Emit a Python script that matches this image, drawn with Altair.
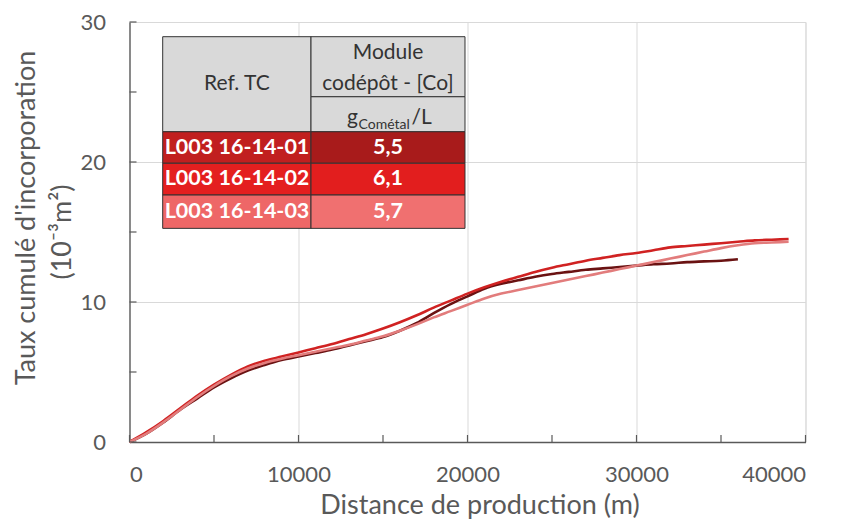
import altair as alt
import pandas as pd

# ---------------- data ----------------
series_names = ["L003 16-14-01", "L003 16-14-02", "L003 16-14-03"]
co_values = ["5,5", "6,1", "5,7"]

dist_01 = [0, 1000, 2000, 3000, 4000, 5000, 6000, 7000, 8000, 9000, 10000,
           11000, 12000, 13000, 14000, 15000, 16000, 17000, 18000, 19000, 20000,
           21000, 22000, 23000, 24000, 25000, 26000, 27000, 28000, 29000, 30000,
           31000, 32000, 33000, 34000, 35000, 36000]
rate_01 = [0, 0.6, 1.4, 2.3, 3.1, 3.9, 4.55, 5.1, 5.5, 5.85, 6.1,
           6.35, 6.6, 6.9, 7.2, 7.5, 7.95, 8.5, 9.2, 9.85, 10.4,
           10.95, 11.3, 11.55, 11.8, 12.0, 12.15, 12.3, 12.4, 12.5, 12.6,
           12.7, 12.75, 12.85, 12.9, 12.95, 13.05]

dist_02 = [0, 1000, 2000, 3000, 4000, 5000, 6000, 7000, 8000, 9000, 10000,
           11000, 12000, 13000, 14000, 15000, 16000, 17000, 18000, 19000, 20000,
           21000, 22000, 23000, 24000, 25000, 26000, 27000, 28000, 29000, 30000,
           31000, 32000, 33000, 34000, 35000, 36000, 37000, 38000, 39000]
rate_02 = [0, 0.7, 1.5, 2.4, 3.3, 4.1, 4.8, 5.4, 5.8, 6.1, 6.4,
           6.7, 7.0, 7.35, 7.7, 8.1, 8.55, 9.05, 9.6, 10.1, 10.6,
           11.05, 11.45, 11.8, 12.15, 12.45, 12.7, 12.95, 13.15, 13.35, 13.5,
           13.7, 13.9, 14.0, 14.1, 14.2, 14.3, 14.4, 14.45, 14.5]

dist_03 = [0, 1000, 2000, 3000, 4000, 5000, 6000, 7000, 8000, 9000, 10000,
           11000, 12000, 13000, 14000, 15000, 16000, 17000, 18000, 19000, 20000,
           21000, 22000, 23000, 24000, 25000, 26000, 27000, 28000, 29000, 30000,
           31000, 32000, 33000, 34000, 35000, 36000, 37000, 38000, 39000]
rate_03 = [0, 0.6, 1.4, 2.3, 3.2, 4.0, 4.7, 5.25, 5.65, 5.95, 6.2,
           6.45, 6.7, 6.95, 7.25, 7.55, 7.95, 8.4, 8.9, 9.35, 9.8,
           10.25, 10.6, 10.85, 11.1, 11.35, 11.6, 11.85, 12.1, 12.35, 12.6,
           12.85, 13.1, 13.35, 13.6, 13.85, 14.05, 14.2, 14.25, 14.3]

x_labels = [0, 10000, 20000, 30000, 40000]
y_labels = [0, 10, 20, 30]
x_minor = [0, 5000, 10000, 15000, 20000, 25000, 30000, 35000, 40000]
y_minor = [0, 5, 10, 15, 20, 25, 30]

# ---------------- styles / layout ----------------
FONT = "Lato"
GREY = "#595959"
line_colors = ["#6A1212", "#D02222", "#E27C7C"]
row_left_fill = ["#C11F1F", "#E41F1F", "#EE6767"]
row_right_fill = ["#A81B1B", "#E21E1E", "#F07070"]
HEADER_FILL = "#D9D9D9"

W, H = 676, 420

# table geometry in data units
TX0, TXM, TX1 = 1964, 10740, 19852
TY_TOP, TY_SUB, TY_HDR = 28.95, 24.66, 22.16
TY_ROWS = [22.16, 19.91, 17.64, 15.26]

# ---------------- frames ----------------
rows = []
for name, xs, ys in zip(series_names, [dist_01, dist_02, dist_03], [rate_01, rate_02, rate_03]):
    for xv, yv in zip(xs, ys):
        rows.append({"series": name, "dist": xv, "rate": yv})
df = pd.DataFrame(rows)

xsc = alt.Scale(domain=[0, 40000], nice=False, zero=False)
ysc = alt.Scale(domain=[0, 30], nice=False, zero=False)

lines = alt.Chart(df).mark_line(strokeWidth=2.6, interpolate="monotone").encode(
    x=alt.X("dist:Q", scale=xsc,
            axis=alt.Axis(values=x_labels, format="d", grid=True, ticks=False, title=None,
                          labelFont=FONT, labelFontSize=22, labelColor=GREY,
                          labelPadding=22, gridColor="#D9D9D9", gridWidth=1,
                          domainColor=GREY, domainWidth=1.3)),
    y=alt.Y("rate:Q", scale=ysc,
            axis=alt.Axis(values=y_labels, grid=True, ticks=False, title=None,
                          labelFont=FONT, labelFontSize=22, labelColor=GREY,
                          labelPadding=24, gridColor="#D9D9D9", gridWidth=1,
                          domainColor=GREY, domainWidth=1.3)),
    color=alt.Color("series:N", scale=alt.Scale(domain=series_names, range=line_colors), legend=None),
    detail="series:N",
)

xt = alt.Chart(pd.DataFrame({"v": x_minor})).mark_rule(color=GREY, strokeWidth=1.2).encode(
    x=alt.X("v:Q", scale=xsc), y=alt.value(H), y2=alt.value(H - 7))
yt = alt.Chart(pd.DataFrame({"v": y_minor})).mark_rule(color=GREY, strokeWidth=1.2).encode(
    y=alt.Y("v:Q", scale=ysc), x=alt.value(0), x2=alt.value(7))

# table cells
cells = [
    {"x0": TX0, "x1": TXM, "y0": TY_TOP, "y1": TY_HDR, "fill": HEADER_FILL},
    {"x0": TXM, "x1": TX1, "y0": TY_TOP, "y1": TY_SUB, "fill": HEADER_FILL},
    {"x0": TXM, "x1": TX1, "y0": TY_SUB, "y1": TY_HDR, "fill": HEADER_FILL},
]
for i in range(3):
    cells.append({"x0": TX0, "x1": TXM, "y0": TY_ROWS[i], "y1": TY_ROWS[i + 1], "fill": row_left_fill[i]})
    cells.append({"x0": TXM, "x1": TX1, "y0": TY_ROWS[i], "y1": TY_ROWS[i + 1], "fill": row_right_fill[i]})
cells_df = pd.DataFrame(cells)
table_rects = alt.Chart(cells_df).mark_rect(stroke="#333333", strokeWidth=1).encode(
    x=alt.X("x0:Q", scale=xsc), x2="x1", y=alt.Y("y0:Q", scale=ysc), y2="y1",
    fill=alt.Fill("fill:N", scale=None))

hdr_df = pd.DataFrame({
    "t": ["Ref. TC", "Module", "codépôt - [Co]"],
    "x": [(TX0 + TXM) / 2, (TXM + TX1) / 2, (TXM + TX1) / 2],
    "y": [25.55, 27.8, 25.6],
})
hdr_txt = alt.Chart(hdr_df).mark_text(font=FONT, fontSize=21, color="#333333",
                                      baseline="middle", align="center").encode(
    x=alt.X("x:Q", scale=xsc), y=alt.Y("y:Q", scale=ysc), text="t:N")

unit_big = pd.DataFrame({"t": ["g", "/L"], "x": [13521, 16686], "y": [22.68, 22.68]})
unit_g = alt.Chart(unit_big.iloc[[0]]).mark_text(font=FONT, fontSize=21, color="#333333",
                                                 baseline="alphabetic", align="right").encode(
    x=alt.X("x:Q", scale=xsc), y=alt.Y("y:Q", scale=ysc), text="t:N")
unit_l = alt.Chart(unit_big.iloc[[1]]).mark_text(font=FONT, fontSize=21, color="#333333",
                                                 baseline="alphabetic", align="left").encode(
    x=alt.X("x:Q", scale=xsc), y=alt.Y("y:Q", scale=ysc), text="t:N")
unit_sub = alt.Chart(pd.DataFrame({"t": ["Cométal"], "x": [13550], "y": [22.39]})).mark_text(
    font=FONT, fontSize=14, color="#333333", baseline="alphabetic", align="left").encode(
    x=alt.X("x:Q", scale=xsc), y=alt.Y("y:Q", scale=ysc), text="t:N")

row_centers = [(TY_ROWS[i] + TY_ROWS[i + 1]) / 2 for i in range(3)]
rowlab_df = pd.DataFrame({"t": series_names, "x": [2080] * 3, "y": row_centers})
rowval_df = pd.DataFrame({"t": co_values, "x": [(TXM + TX1) / 2] * 3, "y": row_centers})
row_lab = alt.Chart(rowlab_df).mark_text(font=FONT, fontSize=21.5, fontWeight="bold", color="white",
                                         baseline="middle", align="left").encode(
    x=alt.X("x:Q", scale=xsc), y=alt.Y("y:Q", scale=ysc), text="t:N")
row_val = alt.Chart(rowval_df).mark_text(font=FONT, fontSize=21.5, fontWeight="bold", color="white",
                                         baseline="middle", align="center").encode(
    x=alt.X("x:Q", scale=xsc), y=alt.Y("y:Q", scale=ysc), text="t:N")

# axis titles
xtitle = alt.Chart(pd.DataFrame({"t": ["Distance de production (m)"]})).mark_text(
    font=FONT, fontSize=27, color=GREY, baseline="alphabetic", align="center").encode(
    x=alt.value(350.5), y=alt.value(492), text="t:N")
ytitle1 = alt.Chart(pd.DataFrame({"t": ["Taux cumulé d'incorporation"]})).mark_text(
    font=FONT, fontSize=27, color=GREY, baseline="middle", align="center", angle=270).encode(
    x=alt.value(-102.5), y=alt.value(196), text="t:N")
ytitle2 = alt.Chart(pd.DataFrame({"t": ["(10⁻³m²)"]})).mark_text(
    font=FONT, fontSize=27, color=GREY, baseline="middle", align="center", angle=270).encode(
    x=alt.value(-67), y=alt.value(210), text="t:N")

chart = alt.layer(
    lines, xt, yt, table_rects, hdr_txt, unit_g, unit_l, unit_sub, row_lab, row_val,
    xtitle, ytitle1, ytitle2
).properties(
    width=W, height=H,
    autosize=alt.AutoSizeParams(type="none"),
    padding={"left": 121.5, "top": 14, "right": 29.5, "bottom": 77},
).configure_view(stroke=GREY, strokeWidth=1.3).configure(background="white")

chart.save("out.html", embed_options={"renderer": "svg", "actions": False})
